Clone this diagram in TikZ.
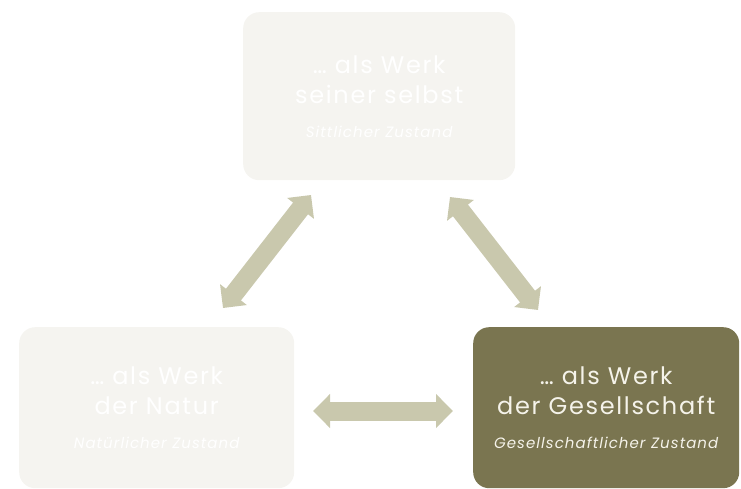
\documentclass[tikz,border=0pt]{standalone}
\usepackage{fontspec}
\setmainfont{Poppins}[LetterSpace=7]
\usetikzlibrary{arrows.meta}
\definecolor{lightbox}{HTML}{F5F4F0}
\definecolor{darkbox}{HTML}{7A7550}
\definecolor{arrowc}{HTML}{C9C8AD}
\definecolor{darktext}{HTML}{F5F3EA}
\tikzset{
  boxbase/.style={rounded corners=16pt, inner sep=0pt, align=center, anchor=north west,
    font=\fontsize{24}{30}\selectfont},
  lightnode/.style={boxbase, fill=lightbox, text=white},
  darknode/.style={boxbase, fill=darkbox, text=darktext},
  bigarrow/.style={line width=19pt, draw=arrowc,
    {Triangle[length=17pt,width=33pt]}-{Triangle[length=17pt,width=33pt]}},
}
\newcommand{\subfnt}{\fontsize{15}{18}\selectfont\itshape}
\begin{document}
\begin{tikzpicture}[x=1pt,y=-1pt]
\useasboundingbox (0,0) rectangle (741,489);
\node[lightnode, minimum width=272pt, minimum height=168pt] (top) at (243,12)
  {… als Werk\\seiner selbst\\[4pt]\subfnt Sittlicher Zustand};
\node[lightnode, minimum width=275pt, minimum height=161pt] (nat) at (19,327)
  {… als Werk\\der Natur\\[4pt]\subfnt Natürlicher Zustand};
\node[darknode, minimum width=266pt, minimum height=161pt] (ges) at (473,327)
  {… als Werk\\der Gesellschaft\\[4pt]\subfnt Gesellschaftlicher Zustand};
\coordinate (a1) at (223,308);
\coordinate (a2) at (311,195);
\coordinate (b1) at (450,197);
\coordinate (b2) at (538,310);
\coordinate (c1) at (313,411);
\coordinate (c2) at (453,411);
\draw[bigarrow] (a1) -- (a2);
\draw[bigarrow] (b1) -- (b2);
\draw[bigarrow] (c1) -- (c2);
\end{tikzpicture}
\end{document}
